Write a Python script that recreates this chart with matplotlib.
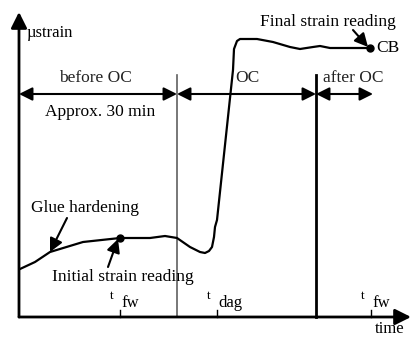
import matplotlib.pyplot as plt

# strain curve over the measurement (time, strain in drawing units)
time_pts = [1, 16, 31, 64, 101, 131, 146, 158, 171, 181, 186, 190, 193, 195, 196, 198,
            214, 215, 218, 221, 238, 254, 271, 281, 294, 301, 311, 328, 351]
strain_pts = [48, 55, 65, 75, 79, 79, 81, 79, 70, 65, 64, 66, 70, 80, 90, 97,
              247, 268, 276, 278, 278, 275, 270, 268, 270, 271, 269, 269, 269]

# key instants on the time axis
t_initial = 101
t_final = 351
phase_edges = [0, 158, 297, 354]
phase_names = ['before OC', 'OC', 'after OC']
tick_times = [101, 198, 352]
tick_subs = ['fw', 'dag', 'fw']

plt.rcParams['font.family'] = ['Liberation Serif', 'DejaVu Serif']

fig = plt.figure(figsize=(4.11, 3.37), dpi=100)
ax = fig.add_axes([0, 0, 1, 1])
ax.set_xlim(-19, 392)
ax.set_ylim(-20, 317)
ax.axis('off')

# axes with arrow heads
ax.annotate('', xy=(0, 305), xytext=(0, 0),
            arrowprops=dict(arrowstyle='-|>', lw=2, color='k', mutation_scale=24,
                            shrinkA=0, shrinkB=0))
ax.annotate('', xy=(392, 0), xytext=(0, 0),
            arrowprops=dict(arrowstyle='-|>', lw=2, color='k', mutation_scale=24,
                            shrinkA=0, shrinkB=0))
ax.text(8, 284, '\u00b5strain', fontsize=12, ha='left', va='center')
ax.text(371, -12, 'time', fontsize=12, ha='center', va='center')

# phase boundaries
ax.plot([phase_edges[1]] * 2, [0, 242], color='#606060', lw=1.2)
ax.plot([phase_edges[2]] * 2, [0, 242], color='k', lw=2)

# phase arrows and labels
arrow_y = 223
for i, name in enumerate(phase_names):
    a, b = phase_edges[i], phase_edges[i + 1]
    ax.annotate('', xy=(b, arrow_y), xytext=(a, arrow_y),
                arrowprops=dict(arrowstyle='<|-|>', lw=1.5, color='k',
                                mutation_scale=20, shrinkA=0, shrinkB=0))
lab_x = [76, 228, 334]
for x, name in zip(lab_x, phase_names):
    ax.text(x, 239, name, fontsize=12.5, ha='center', va='center', color='#222222')
ax.text(81, 205, 'Approx. 30 min', fontsize=12.5, ha='center', va='center')

# time ticks
for t, sub in zip(tick_times, tick_subs):
    ax.plot([t, t], [0, 7], color='k', lw=1)
    ax.text(t - 8, 21, 't', fontsize=9.5, ha='center', va='center')
    ax.text(t + 1, 14, sub, fontsize=12, ha='left', va='center')

# strain curve
ax.plot(time_pts, strain_pts, color='k', lw=1.6, solid_joinstyle='round')
ax.plot([t_initial, t_final], [79, 269], 'o', color='k', ms=5, ls='none')

# annotations
ap = dict(arrowstyle='-|>', lw=1.5, color='k', mutation_scale=20, shrinkA=0, shrinkB=0)
ax.text(66, 109, 'Glue hardening', fontsize=12.5, ha='center', va='center')
ax.annotate('', xy=(31, 65), xytext=(48, 99), arrowprops=ap)
ax.text(104, 40, 'Initial strain reading', fontsize=12.5, ha='center', va='center')
ax.annotate('', xy=(99, 78), xytext=(89, 50), arrowprops=ap)
ax.text(309, 295, 'Final strain reading', fontsize=12.5, ha='center', va='center')
ax.annotate('', xy=(349, 270), xytext=(334, 287), arrowprops=ap)
ax.text(357, 269, 'CB', fontsize=12.5, ha='left', va='center')

fig.savefig('out.png', dpi=100)
